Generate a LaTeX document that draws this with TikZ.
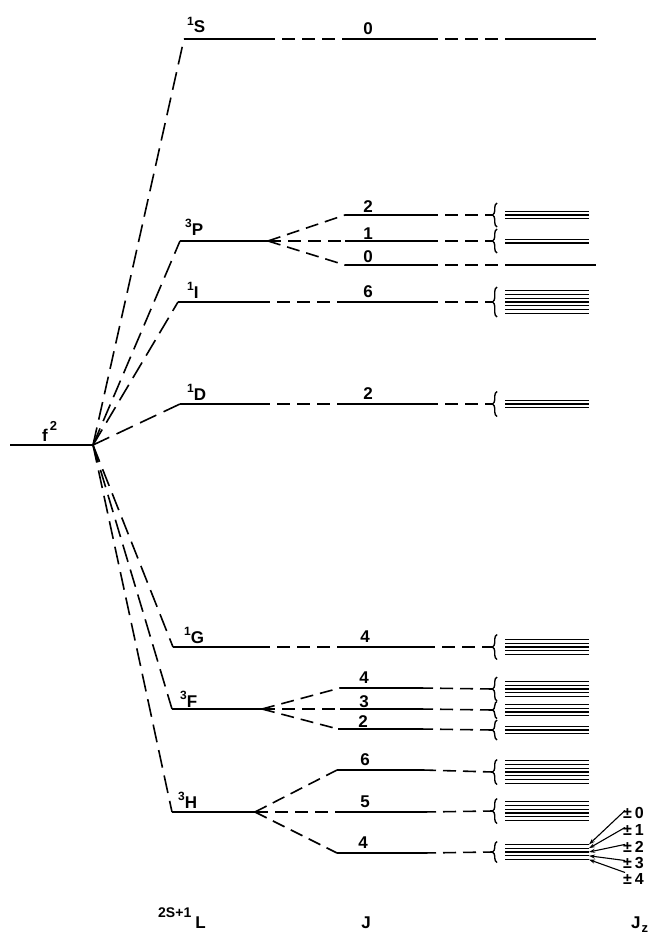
\documentclass[tikz,border=0pt]{standalone}
\usepackage{fontspec}
\setmainfont{Liberation Sans}
\usetikzlibrary{decorations.pathreplacing,arrows.meta}
\newcommand{\tsup}[1]{\raisebox{7.5pt}{\fontsize{12}{14}\selectfont #1}}
\newcommand{\jzgrp}[4]{%
  \foreach \i in {1,...,#3}{%
    \pgfmathsetmacro{\yy}{#2-(#3-1)*1.9+(\i-1)*3.8}%
    \draw[jz] (505,\yy) coordinate (#1-\i-l) -- (589,\yy) coordinate (#1-\i-r);
  }%
  \draw[brc] (497,#2+#4) coordinate (#1-bb) -- (497,#2-#4) coordinate (#1-bt);
  \coordinate (#1-tip) at (493,#2);
}
\begin{document}
\begin{tikzpicture}[x=1pt,y=-1pt,
  lvl/.style={line width=1.7pt},
  dsh/.style={line width=1.6pt, dash pattern=on 13pt off 7pt},
  ldsh/.style={line width=1.6pt, dash pattern=on 18pt off 8pt},
  jz/.style={line width=1.2pt},
  brc/.style={line width=1.4pt, decorate, decoration={brace, amplitude=4.5pt, aspect=0.5}},
  lab/.style={font=\fontsize{17}{20}\selectfont\bfseries, inner sep=0pt, anchor=base},
  term/.style={font=\fontsize{17}{20}\selectfont\bfseries, inner sep=0pt, anchor=base west},
  pm/.style={font=\fontsize{16}{18}\selectfont\bfseries, inner sep=0pt, anchor=base west},
  arr/.style={line width=1.1pt, -{Stealth[length=6pt,width=4pt]}}
]
\useasboundingbox (0,0) rectangle (655,933);

% f^2
\coordinate (f2L) at (10,445);
\coordinate (f2R) at (93,445);
\draw[lvl] (f2L) -- (f2R);
\node[term] (f2lab) at (42,441) {f\hspace{2pt}\raisebox{11pt}{\fontsize{13}{15}\selectfont 2}};

% ---------- 1S ----------
\coordinate (S1a) at (184,39);
\coordinate (S1b) at (262,39);
\coordinate (S1c) at (342,39);
\coordinate (S1d) at (425,39);
\coordinate (S1e) at (505,39);
\coordinate (S1f) at (596,39);
\draw[ldsh] (f2R) -- (S1a);
\draw[lvl] (S1a) -- (S1b);
\draw[dsh] (S1b) -- (S1c);
\draw[lvl] (S1c) -- (S1d);
\draw[dsh] (S1d) -- (S1e);
\draw[lvl] (S1e) -- (S1f);
\node[term] (S1lab) at (187,33) {\tsup{1}S};
\node[lab] (S1J) at (368,35) {0};

% ---------- 3P ----------
\coordinate (P3a) at (180,241);
\coordinate (P3s) at (268,241);
\draw[ldsh] (f2R) -- (P3a);
\draw[lvl] (P3a) -- (P3s);
\node[term] (P3lab) at (185,235) {\tsup{3}P};
% J=2
\jzgrp{P32}{215}{3}{12}
\coordinate (P32a) at (345,215);
\coordinate (P32b) at (425,215);
\draw[dsh] (P3s) -- (P32a);
\draw[lvl] (P32a) -- (P32b);
\draw[dsh] (P32b) -- (P32-tip);
\node[lab] (P32J) at (368,213) {2};
% J=1
\jzgrp{P31}{241}{2}{12}
\coordinate (P31a) at (345,241);
\coordinate (P31b) at (425,241);
\draw[dsh] (P3s) -- (P31a);
\draw[lvl] (P31a) -- (P31b);
\draw[dsh] (P31b) -- (P31-tip);
\node[lab] (P31J) at (368,239) {1};
% J=0
\coordinate (P30a) at (345,265);
\coordinate (P30b) at (425,265);
\coordinate (P30c) at (505,265);
\coordinate (P30d) at (596,265);
\draw[dsh] (P3s) -- (P30a);
\draw[lvl] (P30a) -- (P30b);
\draw[dsh] (P30b) -- (P30c);
\draw[lvl] (P30c) -- (P30d);
\node[lab] (P30J) at (368,262) {0};

% ---------- 1I ----------
\coordinate (I1a) at (178,302);
\coordinate (I1b) at (257,302);
\coordinate (I1c) at (342,302);
\coordinate (I1d) at (425,302);
\jzgrp{I16}{302}{7}{15}
\draw[ldsh] (f2R) -- (I1a);
\draw[lvl] (I1a) -- (I1b);
\draw[dsh] (I1b) -- (I1c);
\draw[lvl] (I1c) -- (I1d);
\draw[dsh] (I1d) -- (I16-tip);
\node[term] (I1lab) at (187,298) {\tsup{1}I};
\node[lab] (I1J) at (368,297) {6};

% ---------- 1D ----------
\coordinate (D1a) at (180,404);
\coordinate (D1b) at (257,404);
\coordinate (D1c) at (342,404);
\coordinate (D1d) at (425,404);
\jzgrp{D12}{404}{3}{12.5}
\draw[ldsh] (f2R) -- (D1a);
\draw[lvl] (D1a) -- (D1b);
\draw[dsh] (D1b) -- (D1c);
\draw[lvl] (D1c) -- (D1d);
\draw[dsh] (D1d) -- (D12-tip);
\node[term] (D1lab) at (187,400) {\tsup{1}D};
\node[lab] (D1J) at (368,399) {2};

% ---------- 1G ----------
\coordinate (G1a) at (173,647);
\coordinate (G1b) at (257,647);
\coordinate (G1c) at (340,647);
\coordinate (G1d) at (422,647);
\jzgrp{G14}{647}{5}{12.5}
\draw[ldsh] (f2R) -- (G1a);
\draw[lvl] (G1a) -- (G1b);
\draw[dsh] (G1b) -- (G1c);
\draw[lvl] (G1c) -- (G1d);
\draw[dsh] (G1d) -- (G14-tip);
\node[term] (G1lab) at (184,643) {\tsup{1}G};
\node[lab] (G1J) at (365,642) {4};

% ---------- 3F ----------
\coordinate (F3a) at (172,709);
\coordinate (F3s) at (262,709);
\draw[ldsh] (f2R) -- (F3a);
\draw[lvl] (F3a) -- (F3s);
\node[term] (F3lab) at (180,707) {\tsup{3}F};
% J=4
\jzgrp{F34}{689}{5}{12}
\coordinate (F34a) at (340,688);
\coordinate (F34b) at (420,688);
\draw[dsh] (F3s) -- (F34a);
\draw[lvl] (F34a) -- (F34b);
\draw[dsh] (F34b) -- (F34-tip);
\node[lab] (F34J) at (364,683) {4};
% J=3
\jzgrp{F33}{710}{4}{8.5}
\coordinate (F33a) at (340,709);
\coordinate (F33b) at (420,709);
\draw[dsh] (F3s) -- (F33a);
\draw[lvl] (F33a) -- (F33b);
\draw[dsh] (F33b) -- (F33-tip);
\node[lab] (F33J) at (364,707) {3};
% J=2
\jzgrp{F32}{730}{3}{10}
\coordinate (F32a) at (338,729);
\coordinate (F32b) at (420,729);
\draw[dsh] (F3s) -- (F32a);
\draw[lvl] (F32a) -- (F32b);
\draw[dsh] (F32b) -- (F32-tip);
\node[lab] (F32J) at (363,727) {2};

% ---------- 3H ----------
\coordinate (H3a) at (172,812);
\coordinate (H3s) at (255,812);
\draw[ldsh] (f2R) -- (H3a);
\draw[lvl] (H3a) -- (H3s);
\node[term] (H3lab) at (178,808) {\tsup{3}H};
% J=6
\jzgrp{H36}{772}{7}{12.5}
\coordinate (H36a) at (337,770);
\coordinate (H36b) at (423,770);
\draw[dsh] (H3s) -- (H36a);
\draw[lvl] (H36a) -- (H36b);
\draw[dsh] (H36b) -- (H36-tip);
\node[lab] (H36J) at (365,765) {6};
% J=5
\jzgrp{H35}{811}{6}{12.5}
\coordinate (H35a) at (337,812);
\coordinate (H35b) at (423,812);
\draw[dsh] (H3s) -- (H35a);
\draw[lvl] (H35a) -- (H35b);
\draw[dsh] (H35b) -- (H35-tip);
\node[lab] (H35J) at (365,807) {5};
% J=4
\jzgrp{H34}{852}{5}{10.5}
\coordinate (H34a) at (337,853);
\coordinate (H34b) at (423,853);
\draw[dsh] (H3s) -- (H34a);
\draw[lvl] (H34a) -- (H34b);
\draw[dsh] (H34b) -- (H34-tip);
\node[lab] (H34J) at (363,848) {4};

% ---------- Jz labels and arrows ----------
\node[pm] (pm0) at (623,818) {±\hspace{3pt}0};
\node[pm] (pm1) at (623,835) {±\hspace{3pt}1};
\node[pm] (pm2) at (623,852) {±\hspace{3pt}2};
\node[pm] (pm3) at (623,868) {±\hspace{3pt}3};
\node[pm] (pm4) at (623,884) {±\hspace{3pt}4};
\draw[arr] ([shift={(2pt,2pt)}]pm0.west) -- (H34-1-r);
\draw[arr] ([shift={(2pt,2pt)}]pm1.west) -- (H34-2-r);
\draw[arr] ([shift={(2pt,2pt)}]pm2.west) -- (H34-3-r);
\draw[arr] ([shift={(2pt,2pt)}]pm3.west) -- (H34-4-r);
\draw[arr] ([shift={(2pt,6pt)}]pm4.west) -- (H34-5-r);

% ---------- column labels ----------
\node[term] (Llab) at (158,928) {\raisebox{11pt}{\fontsize{14}{16}\selectfont 2S+1}\hspace{4pt}L};
\node[lab] (Jlab) at (366,928) {J};
\node[term] (Jzlab) at (631,928) {J\hspace{1pt}\raisebox{-4pt}{\fontsize{13}{15}\selectfont z}};
\end{tikzpicture}
\end{document}
